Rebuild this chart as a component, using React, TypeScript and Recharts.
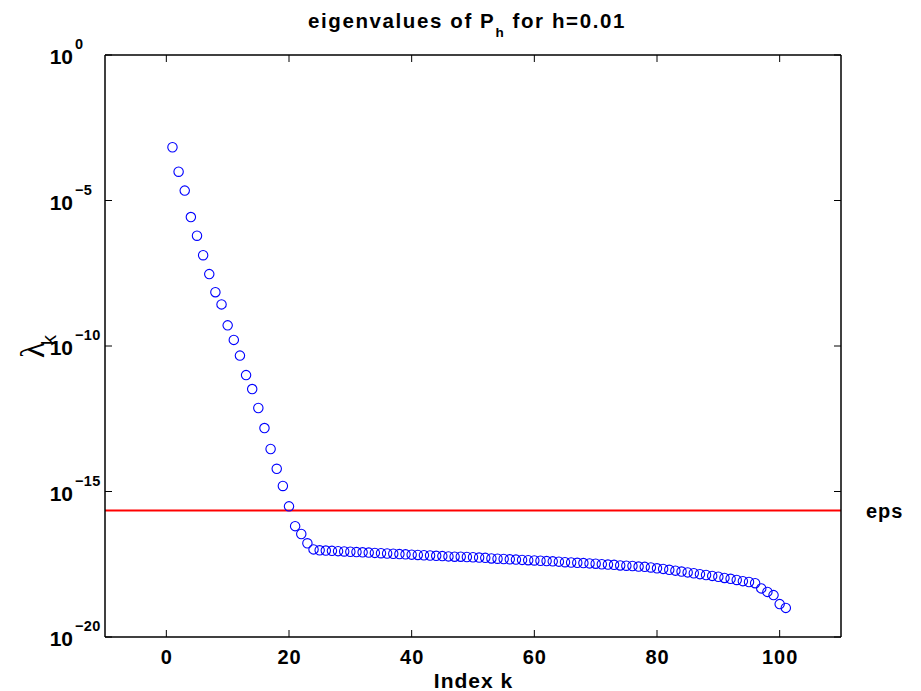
import React from 'react';
import { ScatterChart, Scatter, XAxis, YAxis, ReferenceLine } from 'recharts';

// Index k of each eigenvalue
const indices = [
  1, 2, 3, 4, 5, 6, 7, 8, 9, 10,
  11, 12, 13, 14, 15, 16, 17, 18, 19, 20,
  21, 22, 23, 24, 25, 26, 27, 28, 29, 30,
  31, 32, 33, 34, 35, 36, 37, 38, 39, 40,
  41, 42, 43, 44, 45, 46, 47, 48, 49, 50,
  51, 52, 53, 54, 55, 56, 57, 58, 59, 60,
  61, 62, 63, 64, 65, 66, 67, 68, 69, 70,
  71, 72, 73, 74, 75, 76, 77, 78, 79, 80,
  81, 82, 83, 84, 85, 86, 87, 88, 89, 90,
  91, 92, 93, 94, 95, 96, 97, 98, 99, 100,
  101,
];

// -log10(lambda_k)
const negLog10Lambda = [
  3.17, 4.01, 4.66, 5.57, 6.21, 6.88, 7.53, 8.15, 8.57, 9.29,
  9.79, 10.33, 11.0, 11.48, 12.13, 12.82, 13.54, 14.22, 14.81, 15.51,
  16.19, 16.46, 16.78, 16.99, 17.02, 17.03, 17.04, 17.05, 17.06, 17.07,
  17.08, 17.09, 17.1, 17.11, 17.12, 17.13, 17.14, 17.15, 17.16, 17.17,
  17.18, 17.19, 17.2, 17.21, 17.22, 17.23, 17.24, 17.24, 17.25, 17.26,
  17.27, 17.28, 17.3, 17.31, 17.32, 17.33, 17.34, 17.35, 17.36, 17.37,
  17.38, 17.39, 17.4, 17.41, 17.43, 17.44, 17.45, 17.46, 17.47, 17.48,
  17.5, 17.51, 17.52, 17.54, 17.55, 17.56, 17.58, 17.59, 17.61, 17.64,
  17.66, 17.69, 17.72, 17.75, 17.78, 17.81, 17.84, 17.87, 17.9, 17.93,
  17.97, 18.0, 18.04, 18.08, 18.11, 18.15, 18.33, 18.45, 18.56, 18.87,
  19.0,
];

const xTicks = [0, 20, 40, 60, 80, 100];
const yTicks = [1e-20, 1e-15, 1e-10, 1e-5, 1];
const EPS = 2.220446049250313e-16;

const data = indices.map((k, i) => ({ k, v: Math.pow(10, -negLog10Lambda[i]) }));

const FONT = '"Liberation Sans", Arial, Helvetica, sans-serif';
const TICK_LEN = 7;

const Circle = (props: any) => {
  const { cx, cy } = props;
  if (cx == null || cy == null) return null;
  return <circle cx={cx} cy={cy} r={4.7} fill="none" stroke="#0000ff" strokeWidth={1.1} />;
};

const BottomTick = (props: any) => {
  const { x, y, payload } = props;
  return (
    <g>
      <line x1={x} y1={y} x2={x} y2={y - TICK_LEN} stroke="#000" strokeWidth={1} />
      <text
        x={x + 0.5}
        y={y + 26.5}
        textAnchor="middle"
        fontFamily={FONT}
        fontWeight="bold"
        fontSize={20}
        letterSpacing={1}
        fill="#000"
      >
        {String(payload.value)}
      </text>
    </g>
  );
};

const TopTick = (props: any) => {
  const { x, y } = props;
  return <line x1={x} y1={y} x2={x} y2={y + TICK_LEN} stroke="#000" strokeWidth={1} />;
};

const LeftTick = (props: any) => {
  const { x, y, payload } = props;
  const e = Math.round(Math.log10(payload.value));
  const expText = e === 0 ? '0' : '\u2212' + String(-e);
  return (
    <g>
      <line x1={x} y1={y} x2={x + TICK_LEN} y2={y} stroke="#000" strokeWidth={1} />
      <text
        x={x - 32}
        y={y + 9}
        textAnchor="end"
        fontFamily={FONT}
        fontWeight="bold"
        fontSize={21}
        fill="#000"
      >
        10
      </text>
      <text
        x={x - 30}
        y={y - 6}
        textAnchor="start"
        fontFamily={FONT}
        fontWeight="bold"
        fontSize={14.5}
        letterSpacing={0.3}
        fill="#000"
      >
        {expText}
      </text>
    </g>
  );
};

const RightTick = (props: any) => {
  const { x, y } = props;
  return <line x1={x} y1={y} x2={x - TICK_LEN} y2={y} stroke="#000" strokeWidth={1} />;
};

const TitleLabel = (props: any) => {
  const vb = props.viewBox || { x: 105, y: 54, width: 736, height: 1 };
  const cx = vb.x + vb.width / 2 - 6;
  return (
    <text
      x={cx}
      y={vb.y + vb.height - 27}
      textAnchor="middle"
      fontFamily={FONT}
      fontWeight="bold"
      fontSize={20.5}
      letterSpacing={1.6}
      fill="#000"
      style={{ whiteSpace: 'pre' }}
    >
      eigenvalues of P
      <tspan fontSize={13.5} dy={9}>h</tspan>
      <tspan fontSize={20.5} dy={-9}> for h=0.01</tspan>
    </text>
  );
};

const XLabel = (props: any) => {
  const vb = props.viewBox || { x: 105, y: 637, width: 736, height: 54 };
  return (
    <text
      x={vb.x + vb.width / 2 + 0.5}
      y={vb.y + 51}
      textAnchor="middle"
      fontFamily={FONT}
      fontWeight="bold"
      fontSize={21}
      letterSpacing={1}
      fill="#000"
      style={{ whiteSpace: 'pre' }}
    >
      Index k
    </text>
  );
};

const YLabel = (props: any) => {
  const vb = props.viewBox || { x: 0, y: 55, width: 105, height: 582 };
  const tx = vb.x + 44;
  const ty = vb.y + vb.height / 2 + 12;
  return (
    <g transform={`translate(${tx}, ${ty}) rotate(-90)`}>
      <text x={0} y={0} textAnchor="start" fill="#000">
        <tspan fontFamily='"Liberation Serif", "Times New Roman", serif' fontSize={33}>
          λ
        </tspan>
        <tspan fontFamily={FONT} fontSize={20} dx={-3} dy={12}>
          k
        </tspan>
      </text>
    </g>
  );
};

export default function App() {
  return (
    <div
      style={{
        position: 'absolute',
        left: 0,
        top: 0,
        width: 921,
        height: 691,
        background: '#ffffff',
        overflow: 'hidden',
      }}
    >
      <ScatterChart
        width={921}
        height={691}
        margin={{ top: 54, right: 79, bottom: 0, left: 0 }}
      >
        <XAxis
          dataKey="k"
          type="number"
          domain={[-10, 110]}
          ticks={xTicks}
          interval={0}
          allowDataOverflow
          height={54}
          tickSize={0}
          tickMargin={0}
          tickLine={false}
          axisLine={{ stroke: '#000', strokeWidth: 1.5 }}
          tick={<BottomTick />}
          label={<XLabel />}
        />
        <XAxis
          xAxisId="top"
          orientation="top"
          dataKey="k"
          type="number"
          domain={[-10, 110]}
          ticks={xTicks}
          interval={0}
          allowDataOverflow
          height={1}
          tickSize={0}
          tickMargin={0}
          tickLine={false}
          axisLine={{ stroke: '#000', strokeWidth: 1.5 }}
          tick={<TopTick />}
          label={<TitleLabel />}
        />
        <YAxis
          dataKey="v"
          type="number"
          scale="log"
          domain={[1e-20, 1]}
          ticks={yTicks}
          interval={0}
          allowDataOverflow
          width={105}
          tickSize={0}
          tickMargin={0}
          tickLine={false}
          axisLine={{ stroke: '#000', strokeWidth: 1.5 }}
          tick={<LeftTick />}
          label={<YLabel />}
        />
        <YAxis
          yAxisId="right"
          orientation="right"
          dataKey="v"
          type="number"
          scale="log"
          domain={[1e-20, 1]}
          ticks={yTicks}
          interval={0}
          allowDataOverflow
          width={1}
          tickSize={0}
          tickMargin={0}
          tickLine={false}
          axisLine={{ stroke: '#000', strokeWidth: 1.5 }}
          tick={<RightTick />}
        />
        <ReferenceLine
          y={EPS}
          stroke="#ff0000"
          strokeWidth={2}
          label={{
            value: 'eps',
            position: 'right',
            offset: 25,
            fill: '#000',
            fontSize: 20,
            fontWeight: 'bold',
            fontFamily: FONT,
            letterSpacing: 1,
          }}
        />
        <Scatter data={data} shape={<Circle />} isAnimationActive={false} />
      </ScatterChart>
    </div>
  );
}
